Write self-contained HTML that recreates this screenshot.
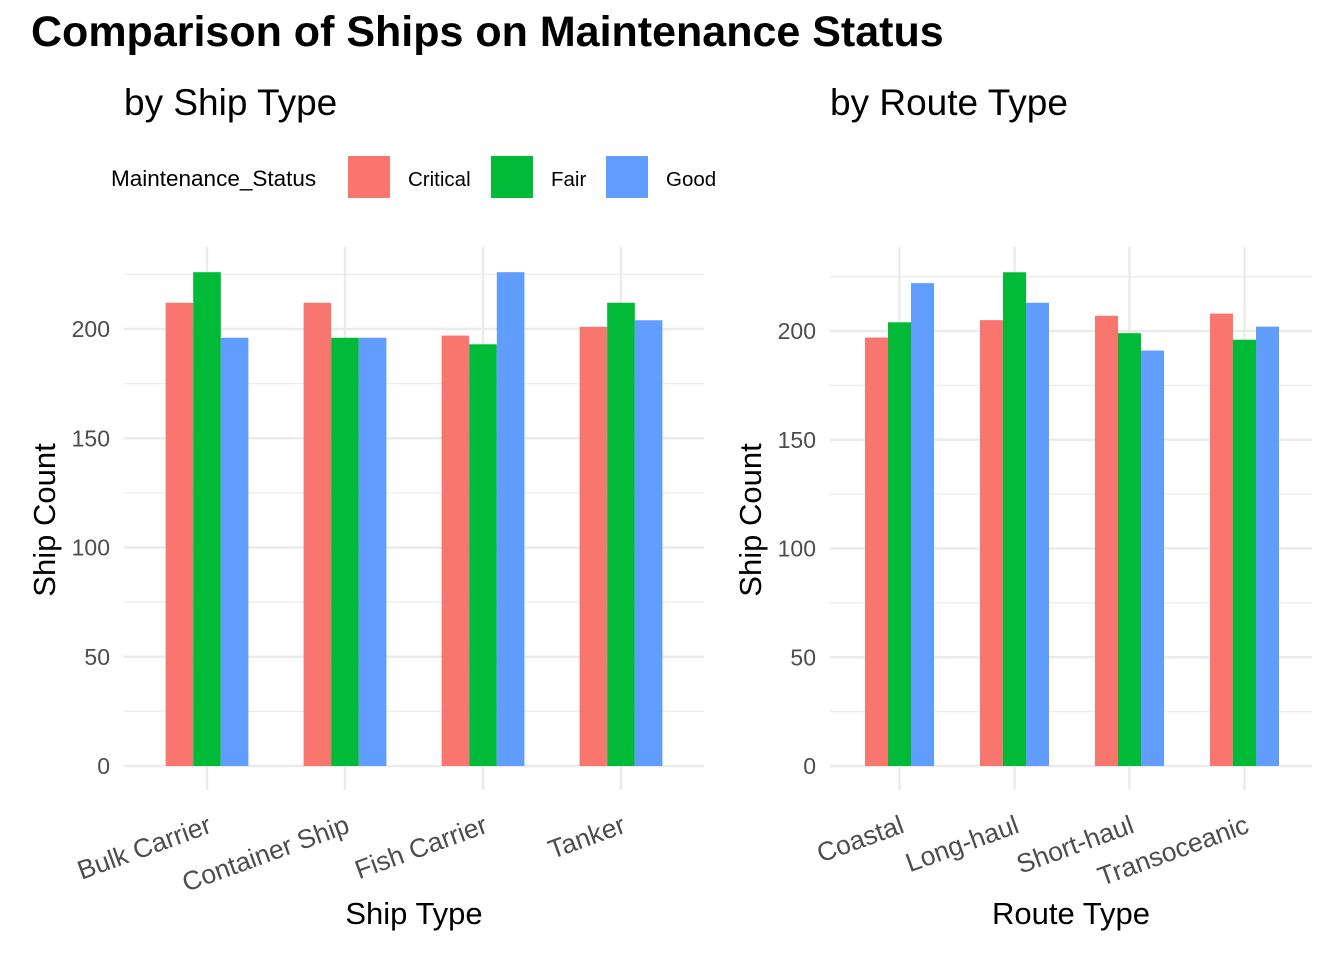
<!DOCTYPE html>
<html><head><meta charset="utf-8"><style>
body{margin:0;background:#fff}
text{font-family:"Liberation Sans",Arial,sans-serif}
</style></head><body>
<svg id="c" width="1344" height="960" xmlns="http://www.w3.org/2000/svg">
<text x="31" y="46" font-size="43" font-weight="bold">Comparison of Ships on Maintenance Status</text>
<text x="124" y="115" font-size="37">by Ship Type</text>
<text x="830" y="115" font-size="37">by Route Type</text>
<g>
<text x="111" y="186" font-size="22.5">Maintenance_Status</text>
<rect x="348" y="156" width="42" height="42" fill="#F8766D"/>
<text x="408" y="186" font-size="20.5">Critical</text>
<rect x="491" y="156" width="42" height="42" fill="#00BA38"/>
<text x="551" y="186" font-size="20.5">Fair</text>
<rect x="606" y="156" width="42" height="42" fill="#619CFF"/>
<text x="666" y="186" font-size="20.5">Good</text>
</g>
</svg>
<script>
const shipTypes=["Bulk Carrier","Container Ship","Fish Carrier","Tanker"];
const shipCritical=[212,212,197,201];
const shipFair=[226,196,193,212];
const shipGood=[196,196,226,204];
const routeTypes=["Coastal","Long-haul","Short-haul","Transoceanic"];
const routeCritical=[197,205,207,208];
const routeFair=[204,227,199,196];
const routeGood=[222,213,191,202];
const yTicks=[0,50,100,150,200];
const colors=["#F8766D","#00BA38","#619CFF"];
const svg=document.getElementById('c');
const NS="http://www.w3.org/2000/svg";
function mk(tag,attrs,parent){const e=document.createElementNS(NS,tag);for(const k in attrs)e.setAttribute(k,attrs[k]);(parent||svg).appendChild(e);return e;}
function panel(p){
  const g=mk('g',{});
  
  
  const y=v=>p.y0-v*p.k;
  const step=(p.x1-p.x0)/p.cats.length;
  const cx=i=>p.x0+step*(i+0.5);
  for(let v=25;v<=225;v+=50){const l=mk('line',{x1:p.gx0,x2:p.gx1,y1:y(v),y2:y(v),stroke:'#ebebeb','stroke-width':1.2},g);
    }
  yTicks.forEach(v=>{const l=mk('line',{x1:p.gx0,x2:p.gx1,y1:y(v),y2:y(v),stroke:'#ebebeb','stroke-width':2.4},g);
    
    const t=mk('text',{x:p.gx0-14,y:y(v)+8,'font-size':23,fill:'#4d4d4d','text-anchor':'end'},g);t.textContent=v;
    });
  p.cats.forEach((c,i)=>{const l=mk('line',{x1:cx(i),x2:cx(i),y1:247,y2:p.y0+24,stroke:'#ebebeb','stroke-width':2.4},g);
    });
  const bw=step*0.6/3;
  p.series.forEach((s,j)=>s.forEach((v,i)=>{
    const r=mk('rect',{x:cx(i)-step*0.3+j*bw,y:y(v),width:bw,height:v*p.k,fill:colors[j]},g);
    
    
  }));
  p.cats.forEach((c,i)=>{const tx=cx(i)+6,ty=p.y0+66;const t=mk('text',{x:tx,y:ty,'font-size':26.5,fill:'#4d4d4d','text-anchor':'end',transform:`rotate(-20 ${tx} ${ty})`},g);t.textContent=c;
    });
  const xt=mk('text',{x:p.xtc,y:924,'font-size':31,'text-anchor':'middle'},g);xt.textContent=p.xtitle;
  
  const ytx=p.ytx;
  const yt=mk('text',{x:ytx,y:520,'font-size':31,'text-anchor':'middle',transform:`rotate(-90 ${ytx} 520)`},g);yt.textContent="Ship Count";
  
}
panel({name:'ship-type-panel',cats:shipTypes,series:[shipCritical,shipFair,shipGood],x0:138,x1:690,gx0:124,gx1:704,xtc:414,y0:766,k:2.185,xtitle:'Ship Type',ytx:55});
panel({name:'route-type-panel',cats:routeTypes,series:[routeCritical,routeFair,routeGood],x0:842,x1:1302,gx0:830,gx1:1312,xtc:1071,y0:766,k:2.175,xtitle:'Route Type',ytx:761});
</script>
</body></html>
